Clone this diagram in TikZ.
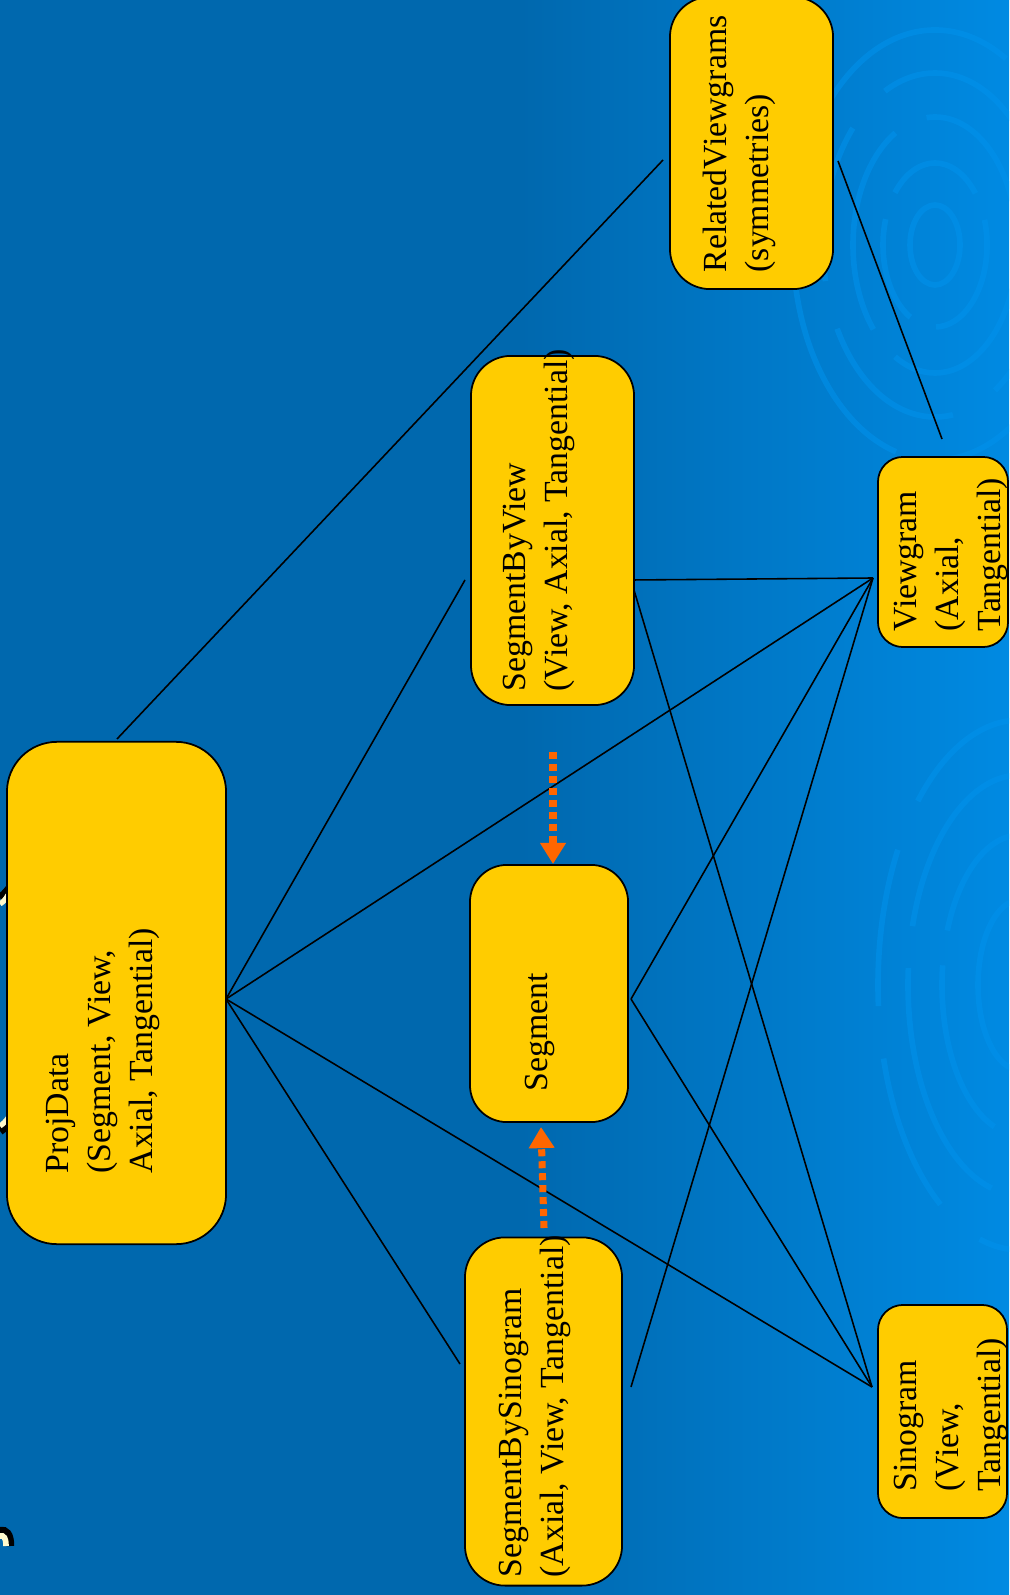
\documentclass[tikz,border=0pt]{standalone}
\usepackage{fontspec}
\setmainfont{Liberation Serif}
\usetikzlibrary{arrows.meta}
\definecolor{bgblue}{RGB}{0,104,174}
\definecolor{bgright}{RGB}{0,138,226}
\definecolor{ringblue}{RGB}{0,146,236}
\definecolor{boxyellow}{RGB}{255,204,0}
\definecolor{arrorange}{RGB}{255,102,0}
\definecolor{cream}{RGB}{255,250,205}

\begin{document}
\begin{tikzpicture}[x=0.01cm,y=-0.01cm,
  blk/.style={draw=black,line width=0.5pt,fill=boxyellow,inner sep=0pt},
  lbl/.style={rotate=90,anchor=north west,inner sep=0pt,align=left,font=\fontsize{9.6}{12}\selectfont},
  link/.style={line width=0.45pt},
  flow/.style={draw=arrorange,line width=2pt,dash pattern=on 2pt off 1.4pt,-{Triangle[width=7pt,length=6pt]}},
  ring/.style={draw=ringblue,line width=1.6pt,opacity=0.55}]
\useasboundingbox (0,0) rectangle (1009,1595);
\begin{scope}
\clip (0,0) rectangle (1009,1595);
\fill[bgblue] (0,0) rectangle (1009,1595);
\shade[left color=bgblue,right color=bgright] (520,0) rectangle (1009,1595);
\foreach \rx/\ry/\dp in {25/40/{on 40pt off 0pt},52/82/{on 30pt off 8pt},82/128/{on 60pt off 10pt},112/172/{on 45pt off 14pt},142/215/{on 80pt off 12pt}}
  \draw[ring,dash pattern/.expanded=\dp] (935,245) ellipse [x radius=\rx,y radius=\ry];
\foreach \rx/\ry/\dp in {42/85/{on 40pt off 0pt},78/150/{on 50pt off 10pt},112/210/{on 70pt off 12pt},142/265/{on 45pt off 15pt}}
  \draw[ring,dash pattern/.expanded=\dp] (1020,985) ellipse [x radius=\rx,y radius=\ry];
\draw[black,line width=2.4pt] (0,898) .. controls (3,896) and (6,893) .. (9,889);
\draw[cream,line width=1.5pt] (0,904) .. controls (3,902) and (6,899) .. (8,895);
\draw[black,line width=2.4pt] (0,1131) .. controls (3,1129) and (6,1126) .. (9,1122);
\draw[cream,line width=1.5pt] (0,1126) .. controls (3,1124) and (6,1121) .. (8,1118);
\draw[black,line width=2.4pt] (0,1531) .. controls (6,1530) and (10,1534) .. (10,1546);
\draw[cream,line width=1.6pt] (0,1536) .. controls (4,1535) and (6,1538) .. (6,1546);
\end{scope}

\coordinate (pdT) at (117,739);
\coordinate (pdR) at (226,999);
\coordinate (rvL) at (663,160);
\coordinate (rvR) at (838,161);
\coordinate (sbvL) at (465,580);
\coordinate (sbvR) at (631,580);
\coordinate (segR) at (631,999);
\coordinate (sbsL) at (460,1364);
\coordinate (sbsR) at (631,1387);
\coordinate (vgL) at (873,578);
\coordinate (vgT) at (942,439);
\coordinate (sinoL) at (872,1387);
\coordinate (sbvB) at (553,752);
\coordinate (sbsT) at (544,1228);
\coordinate (segB) at (541,1127);

\draw[link] (pdT) -- (rvL);
\draw[link] (rvR) -- (vgT);
\foreach \t in {sbvL,vgL,sbsL,sinoL} \draw[link] (pdR) -- (\t);
\foreach \s in {sbvR,segR,sbsR} \draw[link] (\s) -- (vgL);
\foreach \s in {sbvR,segR} \draw[link] (\s) -- (sinoL);

\node[blk,minimum width=2.19cm,minimum height=5.02cm,rounded corners=5mm] (pd) at (116.5,993) {};
\node[blk,minimum width=1.63cm,minimum height=3.49cm,rounded corners=4mm] (sbv) at (552.5,530.5) {};
\node[blk,minimum width=1.58cm,minimum height=2.57cm,rounded corners=3.7mm] (seg) at (549,993.5) {};
\node[blk,minimum width=1.57cm,minimum height=3.48cm,rounded corners=4mm] (sbs) at (543.5,1411.5) {};
\node[blk,minimum width=1.63cm,minimum height=2.92cm,rounded corners=4mm] (rv) at (751.5,143) {};
\node[blk,minimum width=1.30cm,minimum height=1.90cm,rounded corners=2.5mm] (vg) at (943,552) {};
\node[blk,minimum width=1.29cm,minimum height=2.13cm,rounded corners=2.5mm] (sino) at (942.5,1411.5) {};

\node[lbl] (pdtxt) at (45,1174) {ProjData\\(Segment, View,\\Axial, Tangential)};
\node[lbl] (sbvtxt) at (502,692) {SegmentByView\\(View, Axial, Tangential)};
\node[lbl] (segtxt) at (524,1092) {Segment};
\node[lbl] (sbstxt) at (498,1578) {SegmentBySinogram\\(Axial, View, Tangential)};
\node[lbl] (rvtxt) at (702,273) {RelatedViewgrams\\(symmetries)};
\node[lbl] (vgtxt) at (893,632) {Viewgram\\(Axial,\\Tangential)};
\node[lbl] (sinotxt) at (893,1492) {Sinogram\\(View,\\Tangential)};

\draw[flow] (sbvB) -- (sbvB |- seg.north);
\draw[flow] (sbsT) -- (segB);
\end{tikzpicture}
\end{document}
